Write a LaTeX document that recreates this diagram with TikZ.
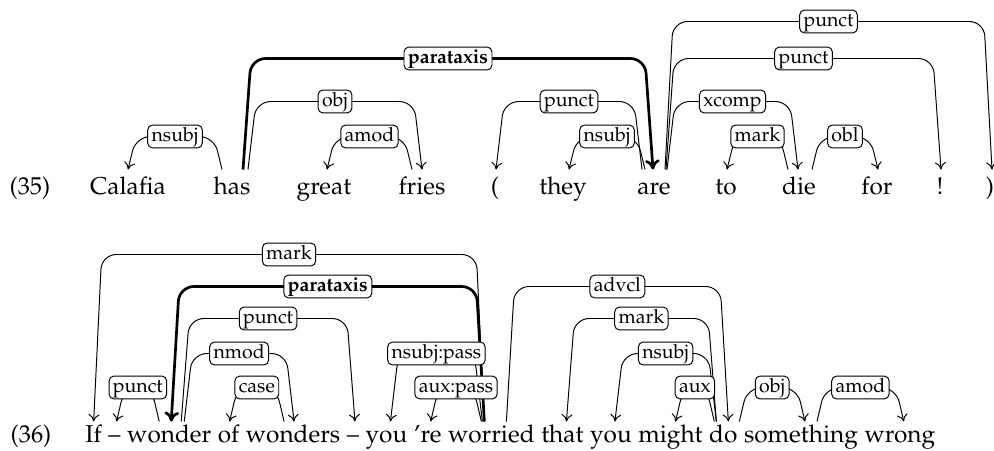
\documentclass[tikz,border=0pt]{standalone}
\usepackage[T1]{fontenc}
\usepackage{mathpazo}
\usetikzlibrary{positioning}
\usetikzlibrary{arrows.meta}

\begin{document}
\begin{tikzpicture}[x=0.41pt, y=0.41pt,
  tok/.style={anchor=base, inner sep=0pt, text height=10.25pt},
  toklow/.style={anchor=base, inner sep=0pt, text height=8.61pt, text depth=2.5pt},
  dep/.style={draw, arrows={->[width=4.5pt,length=3pt]}, line width=0.4pt, rounded corners=6pt},
  depb/.style={dep, line width=1.1pt, arrows={->[width=6pt,length=4pt]}},
  lab/.style={draw, fill=white, line width=0.4pt, rounded corners=2pt, font=\footnotesize,
    inner xsep=1.6pt, inner ysep=0.8pt, text height=5.8pt, text depth=2pt}]
\def\s{8}
\def\sp{2.3pt}

\useasboundingbox (0,0) rectangle (994,451);

% (35)
\node[tok] (n35) at (30,256) {(35)};
\node[tok] (cal) at (128,256) {Calafia};
\node[tok] (has) at (232,256) {has};
\node[tok] (grt) at (324,256) {great};
\node[tok] (fri) at (422,256) {fries};
\node[tok] (lp) at (495,256) {(};
\node[tok] (thy) at (563,256) {they};
\node[tok] (are) at (654,256) {are};
\node[tok] (to) at (726,256) {to};
\node[tok] (die) at (799,256) {die};
\node[tok] (for) at (877,256) {for};
\node[tok] (exc) at (940,256) {!};
\node[tok] (rp) at (990,256) {)};

\draw[dep] ([shift={(11,0)}]are.north) -- ++(\s,148) -- node[lab] {punct} ([shift={(2-\s,148)}]rp.north) -- ([shift={(2,0)}]rp.north);
\draw[depb] ([shift={(11,0)}]has.north) -- ++(\s,111) -- node[lab, font=\footnotesize\bfseries] {parataxis} ([shift={(-1-\s,111)}]are.north) -- ([shift={(-1,0)}]are.north);
\draw[dep] ([shift={(12,0)}]are.north) -- ++(\s,111) -- node[lab] {punct} ([shift={(1-\s,111)}]exc.north) -- ([shift={(1,0)}]exc.north);
\draw[dep] ([shift={(16,0)}]has.north) -- ++(\s,68) -- node[lab] {obj} ([shift={(-\s,68)}]fri.north) -- (fri.north);
\draw[dep] ([shift={(-12,0)}]are.north) -- ++(-\s,68) -- node[lab] {punct} ([shift={(1+\s,68)}]lp.north) -- ([shift={(1,0)}]lp.north);
\draw[dep] ([shift={(13,0)}]are.north) -- ++(\s,68) -- node[lab] {xcomp} ([shift={(-1-\s,68)}]die.north) -- ([shift={(-1,0)}]die.north);
\draw[dep] ([shift={(-10,0)}]has.north) -- ++(-\s,33) -- node[lab] {nsubj} ([shift={(\s,33)}]cal.north) -- (cal.north);
\draw[dep] ([shift={(-10,0)}]fri.north) -- ++(-\s,33) -- node[lab] {amod} ([shift={(3+\s,33)}]grt.north) -- ([shift={(3,0)}]grt.north);
\draw[dep] ([shift={(-9,0)}]are.north) -- ++(-\s,33) -- node[lab] {nsubj} ([shift={(6+\s,33)}]thy.north) -- ([shift={(6,0)}]thy.north);
\draw[dep] ([shift={(-11,0)}]die.north) -- ++(-\s,33) -- node[lab] {mark} ([shift={(1+\s,33)}]to.north) -- ([shift={(1,0)}]to.north);
\draw[dep] ([shift={(13,0)}]die.north) -- ++(\s,33) -- node[lab] {obl} ([shift={(1-\s,33)}]for.north) -- ([shift={(1,0)}]for.north);

% (36)
\node[toklow] (n36) at (31,8) {(36)};
\node[toklow, anchor=base west] (if) at (85,8) {If};
\node[toklow, base right=\sp of if] (da) {--};
\node[toklow, base right=\sp of da] (wdr) {wonder};
\node[toklow, base right=\sp of wdr] (of) {of};
\node[toklow, base right=\sp of of] (wds) {wonders};
\node[toklow, base right=\sp of wds] (db) {--};
\node[toklow, base right=\sp of db] (you) {you};
\node[toklow, base right=\sp of you] (re) {'re};
\node[toklow, base right=\sp of re] (wor) {worried};
\node[toklow, base right=\sp of wor] (tht) {that};
\node[toklow, base right=\sp of tht] (yo2) {you};
\node[toklow, base right=\sp of yo2] (mgt) {might};
\node[toklow, base right=\sp of mgt] (do) {do};
\node[toklow, base right=\sp of do] (stg) {something};
\node[toklow, base right=\sp of stg] (wrg) {wrong};

\draw[dep] ([shift={(-7,0)}]wor.north) -- ++(-\s,167) -- node[lab] {mark} ([shift={(\s,167)}]if.north) -- (if.north);
\draw[depb] ([shift={(-7,0)}]wor.north) -- ++(-\s,135) -- node[lab, font=\footnotesize\bfseries] {parataxis} ([shift={(2+\s,135)}]wdr.north) -- ([shift={(2,0)}]wdr.north);
\draw[dep] ([shift={(15,0)}]wor.north) -- ++(\s,135) -- node[lab] {advcl} ([shift={(5-\s,135)}]do.north) -- ([shift={(5,0)}]do.north);
\draw[dep] ([shift={(12,0)}]wdr.north) -- ++(\s,103) -- node[lab] {punct} ([shift={(2-\s,103)}]db.north) -- ([shift={(2,0)}]db.north);
\draw[dep] ([shift={(-7,0)}]do.north) -- ++(-\s,103) -- node[lab] {mark} ([shift={(4+\s,103)}]tht.north) -- ([shift={(4,0)}]tht.north);
\draw[dep] ([shift={(15,0)}]wdr.north) -- ++(\s,68) -- node[lab] {nmod} ([shift={(1-\s,68)}]wds.north) -- ([shift={(1,0)}]wds.north);
\draw[dep] ([shift={(-9,0)}]wor.north) -- ++(-\s,68) -- node[lab] {nsubj:pass} ([shift={(4+\s,68)}]you.north) -- ([shift={(4,0)}]you.north);
\draw[dep] ([shift={(-7,0)}]do.north) -- ++(-\s,68) -- node[lab] {nsubj} ([shift={(4+\s,68)}]yo2.north) -- ([shift={(4,0)}]yo2.north);
\draw[dep] ([shift={(-10,0)}]wdr.north) -- ++(-\s,34) -- node[lab] {punct} ([shift={(2+\s,34)}]da.north) -- ([shift={(2,0)}]da.north);
\draw[dep] ([shift={(-9,0)}]wds.north) -- ++(-\s,34) -- node[lab] {case} ([shift={(1+\s,34)}]of.north) -- ([shift={(1,0)}]of.north);
\draw[dep] ([shift={(-10,0)}]wor.north) -- ++(-\s,34) -- node[lab] {aux:pass} ([shift={(3+\s,34)}]re.north) -- ([shift={(3,0)}]re.north);
\draw[dep] ([shift={(-9,0)}]do.north) -- ++(-\s,34) -- node[lab] {aux} ([shift={(5+\s,34)}]mgt.north) -- ([shift={(5,0)}]mgt.north);
\draw[dep] ([shift={(16,0)}]do.north) -- ++(\s,34) -- node[lab] {obj} ([shift={(4-\s,34)}]stg.north) -- ([shift={(4,0)}]stg.north);
\draw[dep] ([shift={(16,0)}]stg.north) -- ++(\s,34) -- node[lab] {amod} ([shift={(4-\s,34)}]wrg.north) -- ([shift={(4,0)}]wrg.north);
\end{tikzpicture}
\end{document}
